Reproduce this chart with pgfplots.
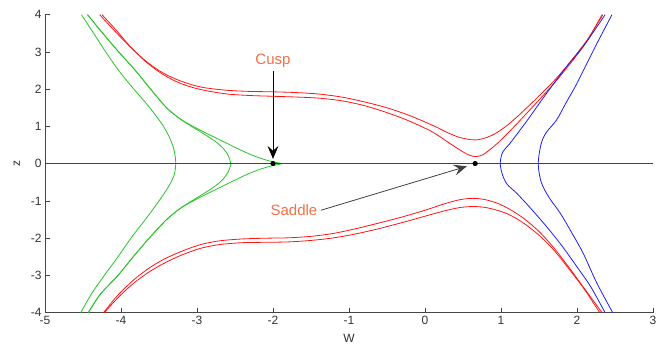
\documentclass[border=0pt]{standalone}
\usepackage{fontspec}
\setmainfont{Liberation Sans}
\usepackage{pgfplots}
\pgfplotsset{compat=1.18}
\usetikzlibrary{arrows.meta}

\definecolor{cgreen}{RGB}{40,195,40}
\definecolor{cred}{RGB}{255,20,20}
\definecolor{cblue}{RGB}{30,30,245}
\definecolor{cline}{RGB}{35,50,240}
\definecolor{cnote}{RGB}{242,112,72}
\definecolor{caxis}{RGB}{70,70,70}

\pgfplotsset{
  curve/.style={line width=0.8pt, smooth, tension=0.5, no markers},
  dot/.style={black, line width=5pt, line cap=round, no markers, sharp plot},
}

\begin{document}
\begin{tikzpicture}
\path[use as bounding box] (-45pt,-35pt) rectangle (619pt,312.7pt);
\begin{axis}[
    scale only axis,
    width=608pt, height=298pt,
    xmin=-5, xmax=3, ymin=-4, ymax=4,
    xtick={-5,-4,-3,-2,-1,0,1,2,3},
    ytick={-4,-3,-2,-1,0,1,2,3,4},
    axis x line*=bottom, axis y line*=left,
    axis line style={-, draw=caxis, line width=0.7pt},
    tick align=inside,
    major tick length=5pt,
    tick style={draw=caxis, line width=0.7pt},
    tick label style={font=\fontsize{12}{14}\selectfont, text=black!80},
    /pgf/number format/assume math mode=true,
    xlabel={W}, ylabel={z},
    xlabel style={font=\fontsize{12}{14}\selectfont, text=black!80,
        at={(axis description cs:0.5,0)}, anchor=center, yshift=-26pt},
    ylabel style={font=\fontsize{12}{14}\selectfont, text=black!80,
        at={(axis description cs:0,0.5)}, anchor=center, yshift=28pt},
    clip=true,
]
% green family
\addplot[curve, cgreen] coordinates {
 (-4.53,-4.0) (-4.39,-3.5) (-4.22,-3.0) (-4.04,-2.5) (-3.87,-2.0)
 (-3.68,-1.5) (-3.50,-1.0) (-3.37,-0.6) (-3.30,-0.3) (-3.28,0)
 (-3.295,0.3) (-3.34,0.6) (-3.44,1.0) (-3.62,1.5) (-3.83,2.0)
 (-4.03,2.5) (-4.20,3.0) (-4.36,3.5) (-4.52,4.0)};
\addplot[curve, cgreen] coordinates {
 (-4.43,-4.0) (-4.27,-3.5) (-4.04,-3.0) (-3.84,-2.5) (-3.63,-2.0)
 (-3.40,-1.5) (-3.22,-1.2) (-3.07,-1.0) (-2.91,-0.8) (-2.76,-0.6)
 (-2.65,-0.4) (-2.585,-0.2) (-2.557,0) (-2.585,0.2) (-2.65,0.4)
 (-2.76,0.6) (-2.91,0.8) (-3.07,1.0) (-3.22,1.2) (-3.40,1.5)
 (-3.61,2.0) (-3.81,2.5) (-4.03,3.0) (-4.24,3.5) (-4.44,4.0)};
\addplot[curve, cgreen] coordinates {
 (-4.43,-4.0) (-4.27,-3.5) (-4.04,-3.0) (-3.84,-2.5) (-3.63,-2.0)
 (-3.40,-1.5) (-3.22,-1.2) (-3.05,-1.0) (-2.86,-0.8) (-2.66,-0.6)
 (-2.46,-0.4) (-2.31,-0.26) (-2.17,-0.15) (-2.05,-0.075) (-1.95,-0.03)
 (-1.886,0) (-1.95,0.03) (-2.05,0.075) (-2.17,0.15) (-2.31,0.26)
 (-2.46,0.4) (-2.66,0.6) (-2.86,0.8) (-3.05,1.0) (-3.22,1.2)
 (-3.40,1.5) (-3.61,2.0) (-3.81,2.5) (-4.03,3.0) (-4.24,3.5) (-4.44,4.0)};
% red family, upper pair
\addplot[curve, cred] coordinates {
 (-4.28,4.0) (-4.1,3.6) (-3.9,3.18) (-3.7,2.80) (-3.5,2.50) (-3.3,2.29)
 (-3.1,2.14) (-2.9,2.04) (-2.6,1.97) (-2.3,1.94) (-2.0,1.93) (-1.7,1.91)
 (-1.4,1.87) (-1.1,1.79) (-0.8,1.66) (-0.5,1.50) (-0.2,1.29) (0.1,1.03)
 (0.3,0.83) (0.45,0.71) (0.6,0.645) (0.7,0.645) (0.82,0.71) (0.95,0.84)
 (1.1,1.06) (1.25,1.33) (1.4,1.62) (1.55,1.92) (1.7,2.23) (1.85,2.58)
 (2.0,2.96) (2.15,3.37) (2.34,4.0)};
\addplot[curve, cred] coordinates {
 (-4.25,4.0) (-4.07,3.6) (-3.88,3.15) (-3.68,2.75) (-3.48,2.44) (-3.28,2.21)
 (-3.08,2.06) (-2.88,1.96) (-2.6,1.87) (-2.3,1.83) (-2.0,1.81) (-1.7,1.79)
 (-1.4,1.76) (-1.1,1.69) (-0.8,1.56) (-0.5,1.37) (-0.2,1.14) (0.1,0.85)
 (0.3,0.58) (0.45,0.38) (0.57,0.24) (0.66,0.19) (0.75,0.23) (0.85,0.37)
 (0.97,0.58) (1.1,0.84) (1.25,1.16) (1.4,1.49) (1.55,1.82) (1.7,2.16)
 (1.85,2.53) (2.0,2.92) (2.15,3.35) (2.33,4.0)};
% red family, lower pair
\addplot[curve, cred] coordinates {
 (-4.23,-4.0) (-4.05,-3.55) (-3.85,-3.15) (-3.65,-2.83) (-3.45,-2.58)
 (-3.2,-2.35) (-2.95,-2.17) (-2.7,-2.07) (-2.4,-2.02) (-2.1,-2.0)
 (-1.8,-1.99) (-1.5,-1.95) (-1.2,-1.87) (-0.9,-1.74) (-0.6,-1.59)
 (-0.3,-1.43) (0.0,-1.25) (0.25,-1.08) (0.45,-0.97) (0.62,-0.93)
 (0.78,-0.96) (0.95,-1.06) (1.12,-1.23) (1.3,-1.47) (1.5,-1.82)
 (1.7,-2.27) (1.9,-2.8) (2.1,-3.36) (2.33,-4.0)};
\addplot[curve, cred] coordinates {
 (-4.22,-4.0) (-4.04,-3.6) (-3.84,-3.22) (-3.64,-2.92) (-3.44,-2.68)
 (-3.2,-2.45) (-2.95,-2.27) (-2.7,-2.17) (-2.4,-2.12) (-2.1,-2.11)
 (-1.8,-2.10) (-1.5,-2.06) (-1.2,-1.99) (-0.9,-1.88) (-0.6,-1.74)
 (-0.3,-1.58) (0.0,-1.41) (0.25,-1.27) (0.45,-1.18) (0.62,-1.15)
 (0.78,-1.17) (0.95,-1.25) (1.12,-1.38) (1.3,-1.6) (1.5,-1.92)
 (1.7,-2.33) (1.9,-2.84) (2.1,-3.38) (2.30,-4.0)};
% blue family
\addplot[curve, cblue] coordinates {
 (2.37,-4) (2.18,-3.3) (2.0,-2.77) (1.80,-2.2) (1.60,-1.69) (1.40,-1.22)
 (1.21,-0.80) (1.08,-0.55) (1.02,-0.3) (0.99,0) (1.02,0.3) (1.12,0.55)
 (1.25,0.9) (1.38,1.26) (1.55,1.75) (1.73,2.25) (1.9,2.7) (2.08,3.14)
 (2.37,4)};
\addplot[curve, cblue] coordinates {
 (2.47,-4) (2.26,-3.2) (2.08,-2.4) (1.93,-1.85) (1.78,-1.33) (1.63,-0.9)
 (1.53,-0.5) (1.49,0) (1.53,0.55) (1.6,0.85) (1.73,1.17) (1.86,1.65)
 (2.0,2.16) (2.23,3.1) (2.46,4)};
\addplot[draw=cline, line width=1.1pt, mark=none, sharp plot] table {
x y
-5 0
3 0
};
% critical points: short round-capped strokes, no plot marks
\addplot[dot] table {
x y
-2.002 0
-1.998 0
};
\addplot[dot] table {
x y
0.658 0
0.662 0
};
% annotations
\node[text=cnote, font=\fontsize{15}{17}\selectfont] at (axis cs:-2.0,2.75) {Cusp};
\draw[black, line width=0.8pt, -{Stealth[length=13pt, width=11pt, inset=5pt]}]
  (axis cs:-2.0,2.5) -- (axis cs:-2.0,0.13);
\node[text=cnote, font=\fontsize{15}{17}\selectfont, anchor=east] at (axis cs:-1.37,-1.24) {Saddle};
\draw[black!75, line width=0.8pt, -{Stealth[length=13pt, width=11pt, inset=5pt]}]
  (axis cs:-1.37,-1.25) -- (axis cs:0.55,-0.07);
\end{axis}
\end{tikzpicture}
\end{document}
